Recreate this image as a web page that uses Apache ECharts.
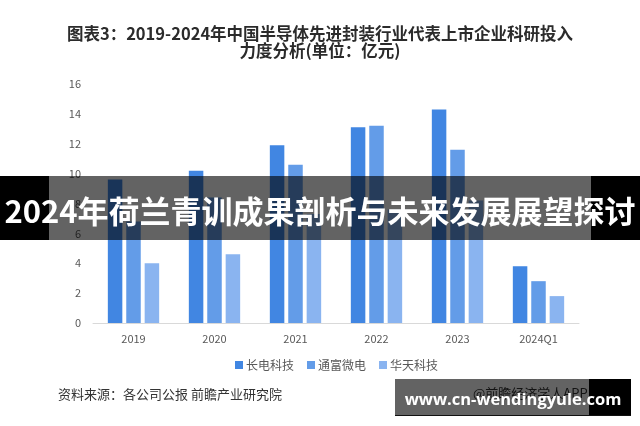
<!DOCTYPE html>
<html><head><meta charset="utf-8">
<script src="https://cdn.jsdelivr.net/npm/echarts@6/dist/echarts.min.js"></script>
<style>html,body{margin:0;padding:0;background:#fff}#c{width:640px;height:426px}</style>
</head><body><div id="c"></div>
<script>
var categories = ['2019','2020','2021','2022','2023','2024Q1'];
var seriesNames = ['长电科技','通富微电','华天科技'];
var changdian = [9.6, 10.2, 11.9, 13.1, 14.3, 3.8];
var tongfu = [6.8, 8.4, 10.6, 13.2, 11.6, 2.8];
var huatian = [4.0, 4.6, 7.3, 7.6, 8.2, 1.8];
var yTicks = [0, 2, 4, 6, 8, 10, 12, 14, 16];
var colors = ['#4186E2', '#639CE8', '#8AB4F0'];
var titleText = '图表3：2019-2024年中国半导体先进封装行业代表上市企业科研投入\n力度分析(单位：亿元)';
var bannerText = '2024年荷兰青训成果剖析与未来发展展望探讨';
var sourceText = '资料来源：各公司公报 前瞻产业研究院';
var appText = '@前瞻经济学人APP';
var siteText = 'www.cn-wendingyule.com';

var chart = echarts.init(document.getElementById('c'), null, {renderer: 'canvas'});
var font = '"Noto Sans CJK SC", "Noto Sans", sans-serif';
var dataSets = [changdian, tongfu, huatian];
chart.setOption({
  animation: false,
  backgroundColor: '#fff',
  title: {
    text: titleText, left: 'center', top: 20,
    textStyle: {fontFamily: font, fontSize: 16.5, fontWeight: 'bold', color: '#2b2b2b', lineHeight: 17}
  },
  grid: {left: 93, right: 61, top: 84, bottom: 103},
  legend: {
    data: seriesNames, bottom: 50, left: 230, itemWidth: 8, itemHeight: 8, itemGap: 13,
    icon: 'rect', textStyle: {fontFamily: font, fontSize: 12, color: '#595959', padding: [0,0,0,-2]}
  },
  xAxis: {
    type: 'category', data: categories,
    axisLine: {lineStyle: {color: '#d9d9d9', width: 1}}, axisTick: {show: false},
    axisLabel: {fontFamily: font, fontSize: 11, color: '#595959', margin: 10}
  },
  yAxis: {
    type: 'value', min: yTicks[0], max: yTicks[yTicks.length-1], interval: 2,
    splitLine: {show: false}, axisLine: {show: false}, axisTick: {show: false},
    axisLabel: {fontFamily: font, fontSize: 11, color: '#595959', margin: 12}
  },
  series: seriesNames.map(function(n, i){
    return {name: n, type: 'bar', data: dataSets[i], barWidth: 14.5, barGap: '27%',
      itemStyle: {color: colors[i]}};
  }),
  graphic: [
    {type: 'text', left: 58, top: 388, style: {text: sourceText, font: '13px ' + font, fill: '#333'}},
    {type: 'text', left: 473, top: 387, style: {text: appText, font: '13px ' + font, fill: '#333'}},
    {type: 'rect', shape: {x: 0, y: 176, width: 49, height: 64}, style: {fill: '#000'}, z: 100},
    {type: 'rect', shape: {x: 49, y: 176, width: 542, height: 64}, style: {fill: 'rgba(0,0,0,0.61)'}, z: 100},
    {type: 'rect', shape: {x: 591, y: 176, width: 49, height: 64}, style: {fill: '#000'}, z: 100},
    {type: 'text', x: 320, y: 211, z: 101,
      style: {text: bannerText, font: 'bold 31px "Noto Sans CJK SC", sans-serif', fill: '#fff', align: 'center', verticalAlign: 'middle'}},
    {type: 'rect', shape: {x: 395, y: 379, width: 194, height: 37}, style: {fill: 'rgba(0,0,0,0.61)'}, z: 100},
    {type: 'rect', shape: {x: 589, y: 379, width: 42, height: 37}, style: {fill: '#000'}, z: 100},
    {type: 'rect', shape: {x: 395, y: 415, width: 236, height: 1}, style: {fill: '#111'}, z: 100},
    {type: 'text', x: 513, y: 400, z: 101,
      style: {text: siteText, font: 'bold 16.5px "Open Sans", "Noto Sans", sans-serif', fill: '#fff', align: 'center', verticalAlign: 'middle'}}
  ]
});
</script></body></html>
